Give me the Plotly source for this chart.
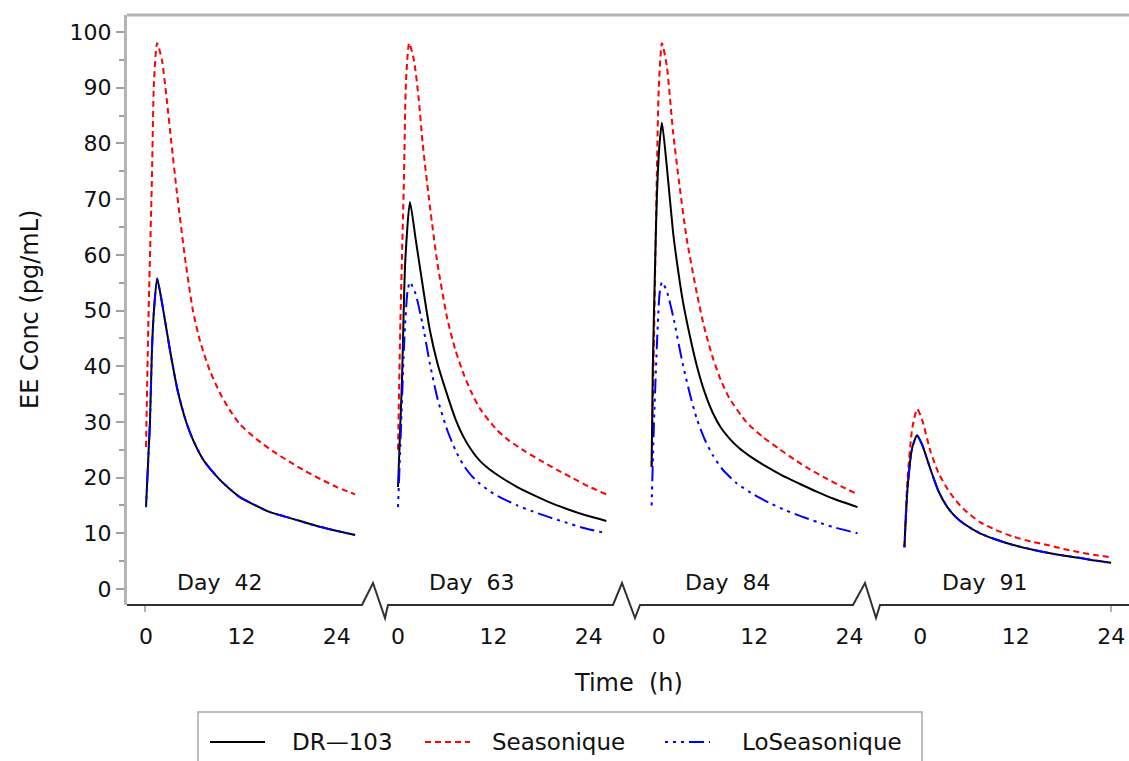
import plotly.graph_objects as go

# ---------------- data (hours after dose, EE concentration pg/mL) ----------------
days = ["Day\u00a0\u00a042", "Day\u00a0\u00a063", "Day\u00a0\u00a084", "Day\u00a0\u00a091"]
series_names = ["DR\u2014103", "Seasonique", "LoSeasonique"]

# Day 42
d42_dr_t = [0, 0.5, 0.75, 1.0, 1.4, 2.0, 3.0, 4.0, 5.1, 6.0, 7.2, 8.0, 9.3, 10.5, 11.8, 13.5, 15.6, 17.5, 19.4, 21.5, 23.5, 26.3]
d42_dr_v = [14.7, 30, 43, 50, 55.8, 51.5, 43, 35.5, 29.8, 26.5, 23.2, 21.7, 19.6, 18.0, 16.5, 15.2, 13.8, 13.0, 12.2, 11.3, 10.6, 9.7]
d42_se_t = [0, 0.3, 0.75, 1.0, 1.4, 2.0, 2.6, 3.2, 3.9, 4.9, 5.9, 6.8, 8.0, 9.3, 10.5, 11.8, 14, 16, 18, 20, 22, 24, 26.3]
d42_se_v = [25.5, 48, 74, 91, 98, 95, 88, 80, 71, 59.5, 50, 44.5, 39.3, 35.2, 32.2, 29.6, 26.8, 24.7, 22.9, 21.2, 19.7, 18.3, 17.0]
d42_lo_t = [0, 0.5, 0.75, 1.0, 1.4, 2.0, 3.0, 4.0, 5.1, 6.0, 7.2, 8.0, 9.3, 10.5, 11.8, 13.5, 15.6, 17.5, 19.4, 21.5, 23.5, 26.3]
d42_lo_v = [14.7, 30, 43, 50, 55.6, 51.5, 43, 35.5, 29.8, 26.5, 23.2, 21.7, 19.6, 18.0, 16.5, 15.2, 13.8, 13.0, 12.2, 11.3, 10.6, 9.7]

# Day 63
d63_dr_t = [0, 0.5, 0.9, 1.5, 2.2, 3.1, 4.0, 5.0, 6.2, 7.2, 8.2, 9.2, 10.3, 11.5, 12.8, 15, 17, 19, 21, 23, 26.2]
d63_dr_v = [18.3, 37.5, 58.5, 69.5, 63, 54.5, 46.5, 40.3, 34.8, 30.6, 27.4, 25.0, 23.0, 21.5, 20.2, 18.3, 16.9, 15.6, 14.5, 13.5, 12.2]
d63_se_t = [0, 0.3, 0.75, 1.0, 1.4, 2.0, 2.6, 3.1, 3.9, 4.9, 6.2, 7.2, 8.2, 9.2, 10.3, 12.4, 14, 16, 18, 20, 22, 24, 26.2]
d63_se_v = [25, 48, 74, 91, 98, 95, 88, 80, 70, 59, 48.5, 43, 38.8, 35.4, 32.4, 28.6, 26.6, 24.7, 23.0, 21.4, 19.9, 18.4, 17.0]
d63_lo_t = [0, 0.4, 0.8, 1.2, 1.5, 2.2, 3.1, 4.0, 5.0, 6.2, 7.2, 8.2, 9.2, 10.3, 11.5, 12.8, 15, 17, 19, 21, 23, 26.2]
d63_lo_v = [14.7, 30, 45, 53.5, 55.1, 53, 47.5, 40.5, 34.0, 28.5, 25.0, 22.3, 20.4, 18.9, 17.6, 16.5, 15.0, 13.9, 12.9, 12.0, 11.1, 10.0]

# Day 84
d84_dr_t = [-0.9, -0.75, -0.5, -0.25, 0.1, 0.4, 1.0, 1.8, 2.4, 3.0, 3.9, 4.8, 5.8, 6.8, 7.8, 8.9, 10.1, 11.4, 13.5, 15.5, 17.7, 20, 22, 25]
d84_dr_v = [21.9, 40, 56, 70, 80, 83.7, 76, 64, 57.5, 51.9, 45.5, 40.0, 35.2, 31.6, 29.0, 27.0, 25.3, 23.9, 22.0, 20.4, 18.9, 17.4, 16.2, 14.7]
d84_se_t = [-0.9, -0.6, -0.3, 0.0, 0.4, 1.0, 1.8, 2.6, 3.5, 4.8, 5.8, 6.8, 7.8, 8.9, 11.0, 13, 15, 17, 19, 21, 23, 25]
d84_se_v = [22, 45, 70, 90, 98, 94, 82, 72.5, 63, 53, 46.5, 41.5, 37.5, 34.2, 30.0, 27.4, 25.3, 23.3, 21.5, 19.9, 18.4, 17.0]
d84_lo_t = [-0.9, -0.6, -0.2, 0.1, 0.4, 1.0, 1.8, 3.0, 4.0, 4.8, 5.8, 6.8, 8.0, 9.8, 12, 14, 16, 18, 20, 22, 25]
d84_lo_v = [15.0, 30, 45, 53, 55.1, 53.5, 49, 40.5, 34.5, 30.5, 26.8, 24.0, 21.5, 19.0, 16.9, 15.4, 14.1, 13.0, 12.0, 11.1, 10.0]

# Day 91
d91_dr_t = [-2.0, -1.6, -1.0, -0.4, 0.2, 1.3, 2.3, 3.4, 4.4, 5.4, 7.5, 9.5, 11.7, 14, 16, 18, 20, 22, 24]
d91_dr_v = [7.5, 18.3, 25.5, 27.6, 26, 21.4, 17.5, 14.7, 13.0, 11.8, 10.0, 8.9, 7.9, 7.1, 6.5, 6.0, 5.6, 5.1, 4.7]
d91_se_t = [-2.0, -1.6, -1.0, -0.4, 0.2, 1.3, 2.3, 3.4, 4.4, 5.4, 7.5, 9.5, 11.7, 14, 16, 18, 20, 22, 24]
d91_se_v = [7.5, 20, 29, 32.3, 30.5, 24.6, 20.8, 18.0, 16.0, 14.4, 12.0, 10.6, 9.4, 8.5, 7.9, 7.2, 6.6, 6.1, 5.7]
d91_lo_t = [-2.0, -1.6, -1.0, -0.4, 0.2, 1.3, 2.3, 3.4, 4.4, 5.4, 7.5, 9.5, 11.7, 14, 16, 18, 20, 22, 24]
d91_lo_v = [7.5, 18.3, 25.5, 27.4, 26, 21.4, 17.5, 14.7, 13.0, 11.8, 10.0, 8.9, 7.9, 7.1, 6.5, 6.0, 5.6, 5.1, 4.7]

x_tick_hours = [0, 12, 24]
x_tick_labels = ["0", "12", "24"]
y_ticks = [0, 10, 20, 30, 40, 50, 60, 70, 80, 90, 100]

# ---------------- layout constants ----------------
panel_offset = [0, 31.7, 64.5, 97.4]          # horizontal position of each day's panel (h)
day_label_hour = [9.3, 9.2, 8.6, 8.1]          # label centre within each panel (h)
W, H = 1129, 761
ML, MR, MT, MB = 127, 0, 15, 156
PX_PER_H = 7.95
X0 = -19 / PX_PER_H
XR = [X0, X0 + (W - ML - MR) / PX_PER_H]
YR = [-2.87, 103.05]

FONT = "DejaVu Sans, Verdana, sans-serif"
TXT = "#111111"

styles = [
    dict(color="black", width=2, dash="solid"),
    dict(color="red", width=2, dash="6px,4px"),
    dict(color="blue", width=2, dash="3px,5px,3px,5px,3px,5px,15px,5px"),
]

data = [
    [(d42_dr_t, d42_dr_v), (d42_se_t, d42_se_v), (d42_lo_t, d42_lo_v)],
    [(d63_dr_t, d63_dr_v), (d63_se_t, d63_se_v), (d63_lo_t, d63_lo_v)],
    [(d84_dr_t, d84_dr_v), (d84_se_t, d84_se_v), (d84_lo_t, d84_lo_v)],
    [(d91_dr_t, d91_dr_v), (d91_se_t, d91_se_v), (d91_lo_t, d91_lo_v)],
]

fig = go.Figure()
for s in [1, 0, 2]:
    for k in range(4):
        t, v = data[k][s]
        fig.add_trace(go.Scatter(
            x=[ti + panel_offset[k] for ti in t], y=v, mode="lines",
            line=dict(shape="spline", smoothing=0.6, **styles[s]),
            name=series_names[s], showlegend=False,
        ))

tickvals, ticktext = [], []
for k in range(4):
    for h, lab in zip(x_tick_hours, x_tick_labels):
        tickvals.append(h + panel_offset[k])
        ticktext.append(lab)


def px(xp):
    return (xp - ML) / (W - ML - MR)


def py(yp):
    return (H - MB - yp) / (H - MT - MB)


# bottom axis with break marks
pts = [(127, 605), (362, 605), (373, 583), (385, 618), (388, 605),
       (613, 605), (622, 583), (635, 618), (640, 605),
       (853, 605), (865, 583), (876, 618), (880, 605), (1129, 605)]
path = "M " + " L ".join(f"{px(a):.5f},{py(b):.5f}" for a, b in pts)

shapes = [
    dict(type="path", xref="paper", yref="paper", path=path,
         line=dict(color="#303030", width=2)),
    dict(type="line", xref="paper", yref="paper", x0=0, x1=1, y0=1, y1=1,
         line=dict(color="#b4b4b4", width=3)),
    dict(type="line", xref="paper", yref="paper", x0=px(145), x1=px(145), y0=py(606), y1=py(612),
         line=dict(color="#999999", width=1.5)),
    dict(type="line", xref="paper", yref="paper", x0=px(1111), x1=px(1111), y0=py(606), y1=py(612),
         line=dict(color="#999999", width=1.5)),
    # legend frame
    dict(type="rect", xref="paper", yref="paper", x0=px(198), x1=px(922), y0=py(712), y1=py(775),
         line=dict(color="#a8a8a8", width=1.5)),
]

# legend samples
legend_line_px = [(210, 265), (425, 470), (665, 710)]
legend_text_px = [290, 490, 740]
LEG_Y = 742
annotations = []
for s in range(3):
    a, b = legend_line_px[s]
    shapes.append(dict(type="line", xref="paper", yref="paper", x0=px(a), x1=px(b),
                       y0=py(LEG_Y), y1=py(LEG_Y), line=styles[s]))
    annotations.append(dict(x=px(legend_text_px[s]), y=py(LEG_Y), xref="paper", yref="paper",
                            text=series_names[s], showarrow=False, xanchor="left", yanchor="middle",
                            font=dict(family=FONT, size=23, color=TXT)))

for k, d in enumerate(days):
    annotations.append(dict(x=day_label_hour[k] + panel_offset[k], y=1.1, xref="x", yref="y",
                            text=d, showarrow=False, xanchor="center", yanchor="middle",
                            font=dict(family=FONT, size=22, color=TXT)))
annotations.append(dict(x=px(628), y=py(683), xref="paper", yref="paper", text="Time\u00a0\u00a0(h)",
                        showarrow=False, xanchor="center", yanchor="middle",
                        font=dict(family=FONT, size=24, color=TXT)))
annotations.append(dict(x=px(30), y=py(310), xref="paper", yref="paper", text="EE Conc (pg/mL)",
                        showarrow=False, xanchor="center", yanchor="middle", textangle=-90,
                        font=dict(family=FONT, size=24, color=TXT)))

fig.update_layout(
    width=W, height=H, margin=dict(l=ML, r=MR, t=MT, b=MB),
    paper_bgcolor="white", plot_bgcolor="white",
    font=dict(family=FONT, size=22, color=TXT),
    xaxis=dict(range=XR, tickvals=tickvals, ticktext=ticktext, showgrid=False, zeroline=False,
               showline=False, ticks="outside", ticklen=12, tickcolor="rgba(0,0,0,0)",
               tickfont=dict(family=FONT, size=22, color=TXT)),
    yaxis=dict(range=YR, tickvals=y_ticks, showgrid=False, zeroline=False,
               showline=True, linecolor="#b4b4b4", linewidth=3,
               ticks="outside", ticklen=8, tickwidth=1.5, tickcolor="#a0a0a0",
               minor=dict(dtick=5, tick0=0, ticks="outside", ticklen=5, tickwidth=1.5, tickcolor="#a0a0a0"),
               tickfont=dict(family=FONT, size=22, color=TXT)),
    shapes=shapes, annotations=annotations,
    showlegend=False,
)

fig.write_html("out.html")
